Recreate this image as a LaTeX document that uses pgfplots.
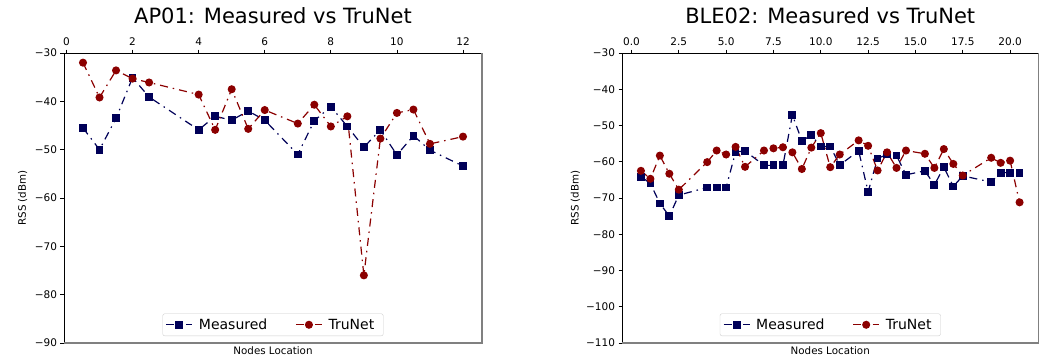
\documentclass[border=0pt]{standalone}
\usepackage{pgfplots}
\pgfplotsset{compat=1.18}
\usepackage{fontspec}
\setmainfont{DejaVu Sans}
\definecolor{meas}{RGB}{0,0,88}
\definecolor{tru}{RGB}{139,0,0}
\definecolor{spinegray}{RGB}{128,128,128}
\pgfplotsset{
  every axis/.append style={
    scale only axis,
    /pgf/number format/assume math mode=true,
    tick align=outside,
    major tick length=3.5pt,
    tick style={black, line width=0.8pt},
    xtick pos=right, xticklabel pos=right,
    ytick pos=left,
    axis line style={draw=none},
    ticklabel style={font=\fontsize{10.5}{12}\selectfont, black},
    label style={font=\fontsize{10.3}{12}\selectfont},
    title style={font=\fontsize{21}{25}\selectfont, at={(0.5,1)}, anchor=base, yshift=23.7pt},
    xlabel style={at={(0.5,0)}, anchor=north, inner sep=0pt, yshift=-3pt},
    ylabel={RSS (dBm)}, xlabel={Nodes Location},
    legend columns=2,
    legend style={at={(0.5,0.024)}, anchor=south, draw=black!20, rounded corners=2pt,
      font=\fontsize{14}{16}\selectfont, inner xsep=3pt, inner ysep=3pt,
      /tikz/every even column/.append style={column sep=22pt},
      nodes={inner xsep=6pt}},
    legend image code/.code={\draw[mark repeat=2,mark phase=2,#1] plot coordinates {(0pt,0pt) (13pt,0pt) (26pt,0pt)};},
    clip=false,
    after end axis/.code={
      \draw[black, line width=0.9pt] (rel axis cs:0,0) -- (rel axis cs:0,1) -- (rel axis cs:1,1);
      \draw[spinegray, line width=1.8pt] (rel axis cs:1,1) -- (rel axis cs:1,0) -- (rel axis cs:0,0);
    },
  },
  measstyle/.style={meas, line width=1.2pt, dash pattern=on 8pt off 5pt on 1.5pt off 5pt,
    mark=square*, mark size=3.3pt, mark options={solid, fill=meas, draw=meas}},
  trustyle/.style={tru, line width=1.2pt, dash pattern=on 8pt off 5pt on 1.5pt off 5pt,
    mark=*, mark size=3.4pt, mark options={solid, fill=tru, draw=tru}},
}
\begin{document}
\begin{tikzpicture}[x=1pt,y=1pt]
\path[use as bounding box] (0,0) rectangle (1045,356);
\begin{axis}[
  at={(64pt,13pt)}, anchor=south west,
  width=418pt, height=290pt,
  xmin=-0.075, xmax=12.575, ymin=-90, ymax=-30,
  xtick={0,2,4,6,8,10,12},
  ytick={-90,-80,-70,-60,-50,-40,-30},
  yticklabels={−90,−80,−70,−60,−50,−40,−30},
  ylabel style={at={(axis description cs:-0.099,0.5)}, anchor=center},
  title={AP01: Measured vs TruNet},
]
\addplot[measstyle] coordinates {
(0.5,-45.5) (1,-50.0) (1.5,-43.5) (2,-35.1) (2.5,-39.1) (4,-45.9) (4.5,-43.1) (5,-43.9)
(5.5,-42.0) (6,-43.9) (7,-51.0) (7.5,-44.0) (8,-41.1) (8.5,-45.2) (9,-49.5) (9.5,-45.9)
(10,-51.1) (10.5,-47.1) (11,-50.1) (12,-53.4)};
\addlegendentry{Measured}
\addplot[trustyle] coordinates {
(0.5,-32.0) (1,-39.2) (1.5,-33.6) (2,-35.3) (2.5,-36.1) (4,-38.6) (4.5,-45.9) (5,-37.5)
(5.5,-45.7) (6,-41.8) (7,-44.6) (7.5,-40.7) (8,-45.2) (8.5,-43.1) (9,-76.0) (9.5,-47.7)
(10,-42.4) (10.5,-41.7) (11,-48.8) (12,-47.3)};
\addlegendentry{TruNet}
\end{axis}
\begin{axis}[
  at={(622pt,13pt)}, anchor=south west,
  width=416.5pt, height=290pt,
  xmin=-0.5, xmax=21.5, ymin=-110, ymax=-30,
  xtick={0,2.5,5,7.5,10,12.5,15,17.5,20},
  xticklabels={0.0,2.5,5.0,7.5,10.0,12.5,15.0,17.5,20.0},
  ytick={-110,-100,-90,-80,-70,-60,-50,-40,-30},
  yticklabels={−110,−100,−90,−80,−70,−60,−50,−40,−30},
  ylabel style={at={(axis description cs:-0.112,0.5)}, anchor=center},
  title={BLE02: Measured vs TruNet},
]
\addplot[measstyle] coordinates {
(0.5,-64.1) (1,-66.0) (1.5,-71.5) (2,-75.0) (2.5,-69.2) (4,-67.1) (4.5,-67.1) (5,-67.1)
(5.5,-57.3) (6,-57.0) (7,-61.0) (7.5,-61.0) (8,-61.0) (8.5,-47.1) (9,-54.2) (9.5,-52.7)
(10,-55.8) (10.5,-55.8) (11,-60.9) (12,-57.0) (12.5,-68.3) (13,-59.1) (13.5,-58.0) (14,-58.3)
(14.5,-63.6) (15.5,-62.5) (16,-66.4) (16.5,-61.5) (17,-66.8) (17.5,-63.9) (19,-65.6)
(19.5,-63.0) (20,-63.0) (20.5,-63.0)};
\addlegendentry{Measured}
\addplot[trustyle] coordinates {
(0.5,-62.5) (1,-64.7) (1.5,-58.3) (2,-63.3) (2.5,-67.7) (4,-60.1) (4.5,-56.9) (5,-58.0)
(5.5,-55.9) (6,-61.4) (7,-56.9) (7.5,-56.3) (8,-56.0) (8.5,-57.4) (9,-62.0) (9.5,-56.1)
(10,-52.1) (10.5,-61.5) (11,-58.0) (12,-54.1) (12.5,-55.6) (13,-62.4) (13.5,-57.4) (14,-61.7)
(14.5,-56.9) (15.5,-57.8) (16,-61.7) (16.5,-56.5) (17,-60.6) (17.5,-63.8) (19,-58.9)
(19.5,-60.3) (20,-59.7) (20.5,-71.2)};
\addlegendentry{TruNet}
\end{axis}
\end{tikzpicture}
\end{document}
